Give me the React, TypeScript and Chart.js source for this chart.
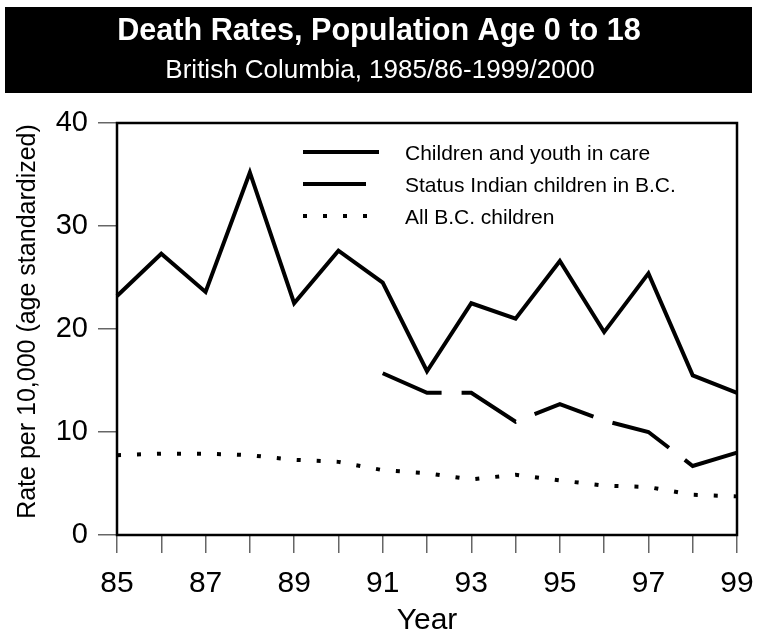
import React, { useEffect, useRef } from "react";
import { Chart, registerables } from "chart.js";

Chart.register(...registerables);

// ---- data ----
const years = ["85", "86", "87", "88", "89", "90", "91", "92", "93", "94", "95", "96", "97", "98", "99"];
const inCare = [23.2, 27.3, 23.6, 35.2, 22.5, 27.6, 24.5, 15.9, 22.5, 21.0, 26.6, 19.7, 25.4, 15.5, 13.8];
const statusIndian = [null, null, null, null, null, null, 15.7, 13.8, 13.8, 11.0, 12.7, 11.1, 10.0, 6.7, 8.0];
const allBC = [7.75, 7.9, 7.9, 7.75, 7.3, 7.1, 6.3, 6.0, 5.4, 5.85, 5.3, 4.8, 4.65, 3.9, 3.75];
const seriesNames = ["Children and youth in care", "Status Indian children in B.C.", "All B.C. children"];
const yTickValues = [0, 10, 20, 30, 40];
const titleText = "Death Rates, Population Age 0 to 18";
const subtitleText = "British Columbia, 1985/86-1999/2000";
const xTitle = "Year";
const yTitle = "Rate per 10,000 (age standardized)";

const FONT = '"Liberation Sans", Arial, Helvetica, sans-serif';

const headerPlugin = {
  id: "header",
  beforeDraw(chart: any) {
    const ctx = chart.ctx;
    ctx.save();
    ctx.fillStyle = "#ffffff";
    ctx.fillRect(0, 0, chart.width, chart.height);
    ctx.fillStyle = "#000000";
    ctx.fillRect(5, 7, 747, 86);
    ctx.fillStyle = "#ffffff";
    ctx.textAlign = "center";
    ctx.textBaseline = "middle";
    ctx.font = `bold 30.6px ${FONT}`;
    ctx.fillText(titleText, 379, 31.5);
    ctx.font = `26px ${FONT}`;
    ctx.fillText(subtitleText, 380, 71);
    ctx.restore();
  },
};

const frameLegendPlugin = {
  id: "frameLegend",
  afterDatasetsDraw(chart: any) {
    const ctx = chart.ctx;
    const a = chart.chartArea;
    ctx.save();
    ctx.strokeStyle = "#000";
    ctx.lineWidth = 2.5;
    ctx.setLineDash([]);
    ctx.strokeRect(a.left, a.top, a.right - a.left, a.bottom - a.top);

    const sampleEnds = [379, 367, 367];
    const rowsY = [152, 184, 216];
    chart.data.datasets.forEach((ds: any, i: number) => {
      ctx.beginPath();
      ctx.setLineDash(ds.borderDash || []);
      ctx.lineDashOffset = 0;
      ctx.lineWidth = ds.borderWidth;
      ctx.lineCap = "butt";
      ctx.strokeStyle = ds.borderColor;
      ctx.moveTo(303, rowsY[i]);
      ctx.lineTo(sampleEnds[i], rowsY[i]);
      ctx.stroke();
      ctx.setLineDash([]);
      ctx.fillStyle = "#000";
      ctx.font = `21px ${FONT}`;
      ctx.textAlign = "left";
      ctx.textBaseline = "middle";
      ctx.fillText(ds.label, 405, rowsY[i] + 2);
    });

    // y axis title
    ctx.translate(28, 321.5);
    ctx.rotate(-Math.PI / 2);
    ctx.font = `25px ${FONT}`;
    ctx.textAlign = "center";
    ctx.textBaseline = "middle";
    ctx.fillStyle = "#000";
    ctx.fillText(yTitle, 0, 0);
    ctx.restore();
  },
};

export default function App() {
  const ref = useRef<HTMLCanvasElement | null>(null);

  useEffect(() => {
    if (!ref.current) return;
    const chart = new Chart(ref.current, {
      type: "line",
      data: {
        labels: years,
        datasets: [
          {
            label: seriesNames[0],
            data: inCare,
            borderColor: "#000",
            borderWidth: 4,
            borderJoinStyle: "miter",
            borderCapStyle: "butt",
            pointRadius: 0,
            tension: 0,
            fill: false,
          },
          {
            label: seriesNames[1],
            data: statusIndian,
            borderColor: "#000",
            borderWidth: 4,
            borderDash: [63, 20],
            borderJoinStyle: "miter",
            borderCapStyle: "butt",
            pointRadius: 0,
            tension: 0,
            fill: false,
          },
          {
            label: seriesNames[2],
            data: allBC,
            borderColor: "#000",
            borderWidth: 4,
            borderDash: [4, 16],
            borderJoinStyle: "miter",
            borderCapStyle: "butt",
            pointRadius: 0,
            tension: 0,
            fill: false,
          },
        ],
      },
      options: {
        responsive: false,
        animation: false,
        events: [],
        layout: { padding: { top: 123, right: 20, left: 0, bottom: 0 } },
        plugins: {
          legend: { display: false },
          tooltip: { enabled: false },
          title: { display: false },
        },
        scales: {
          x: {
            type: "category",
            offset: false,
            border: { display: false },
            grid: {
              offset: false,
              drawOnChartArea: false,
              drawTicks: true,
              tickLength: 18,
              color: "#666",
              lineWidth: 1.5,
            },
            ticks: {
              autoSkip: false,
              maxRotation: 0,
              minRotation: 0,
              padding: 13,
              color: "#000",
              font: { family: FONT, size: 30 },
              callback: (_v: any, i: number) => (i % 2 === 0 ? years[i] : ""),
            },
            title: {
              display: true,
              text: xTitle,
              color: "#000",
              font: { family: FONT, size: 30 },
              padding: { top: 0, bottom: -7 },
            },
            afterFit: (s: any) => {
              s.height = 97;
              s.paddingLeft = 0;
              s.paddingRight = 0;
            },
          },
          y: {
            type: "linear",
            min: 0,
            max: 40,
            border: { display: false },
            grid: {
              drawOnChartArea: false,
              drawTicks: true,
              tickLength: 19,
              color: "#666",
              lineWidth: 1.5,
            },
            afterBuildTicks: (s: any) => {
              s.ticks = yTickValues.map((v) => ({ value: v }));
            },
            ticks: {
              padding: 10,
              color: "#000",
              font: { family: FONT, size: 29 },
              callback: (v: any) => String(v),
            },
            title: { display: false },
            afterFit: (s: any) => {
              s.width = 117;
              s.paddingTop = 0;
              s.paddingBottom = 0;
            },
          },
        },
      },
      plugins: [headerPlugin, frameLegendPlugin],
    } as any);
    return () => chart.destroy();
  }, []);

  return (
    <div style={{ position: "absolute", left: 0, top: 0, width: 757, height: 632 }}>
      <canvas ref={ref} width={757} height={632} style={{ display: "block" }} />
    </div>
  );
}
